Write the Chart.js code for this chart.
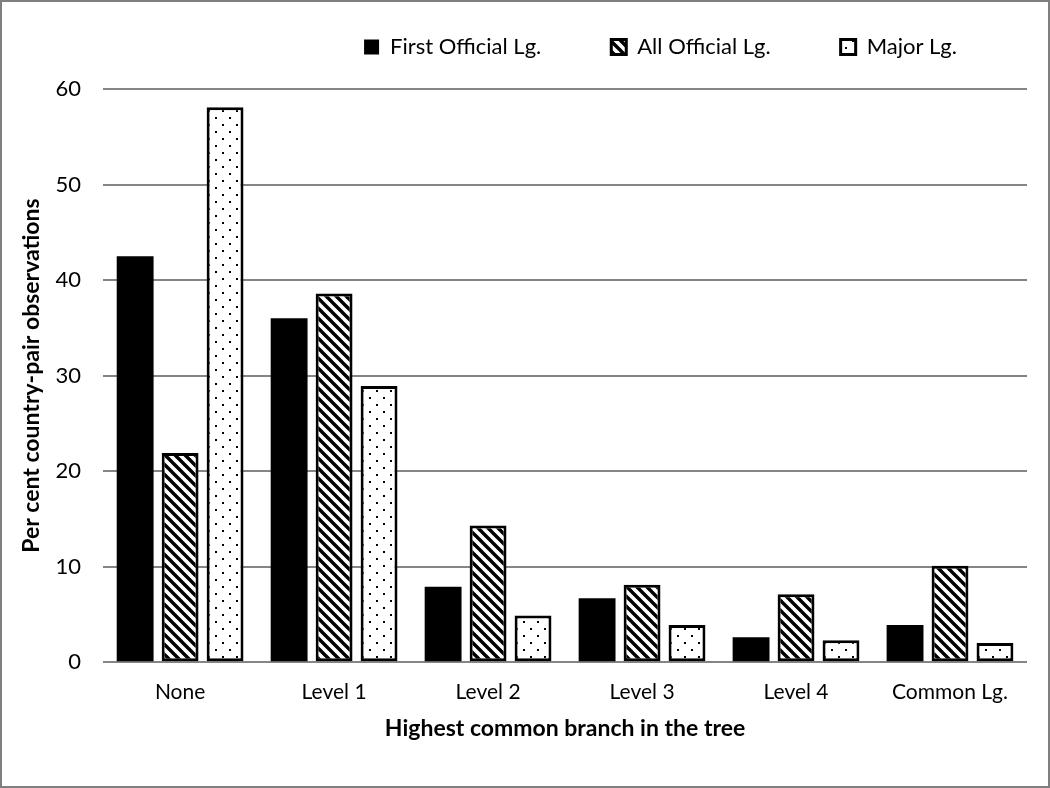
<!DOCTYPE html>
<html>
<head>
<meta charset="utf-8">
<script src="https://cdn.jsdelivr.net/npm/chart.js@4.4.1/dist/chart.umd.min.js"></script>
<style>
  html, body { margin: 0; padding: 0; background: #fff; }
  #wrap { width: 1050px; height: 788px; box-sizing: border-box; border: 2px solid #7f7f7f; background: #fff; }
  #c { display: block; }
</style>
</head>
<body>
<div id="wrap"><canvas id="c" width="1046" height="784"></canvas></div>
<script>
const categories = ["None", "Level 1", "Level 2", "Level 3", "Level 4", "Common Lg."];
const seriesNames = ["First Official Lg.", "All Official Lg.", "Major Lg."];
const firstOfficial = [42.5, 36.0, 7.9, 6.7, 2.6, 3.9];
const allOfficial = [21.9, 38.6, 14.3, 8.1, 7.1, 10.1];
const majorLg = [58.1, 28.9, 4.9, 3.9, 2.3, 2.0];
const yTicks = [0, 10, 20, 30, 40, 50, 60];

function hatchPattern() {
  const s = 10;
  const cv = document.createElement('canvas');
  cv.width = s; cv.height = s;
  const g = cv.getContext('2d');
  g.fillStyle = '#fff'; g.fillRect(0, 0, s, s);
  g.strokeStyle = '#000'; g.lineWidth = 3.4;
  g.beginPath();
  for (const o of [-s, 0, s]) { g.moveTo(o - 2, -2); g.lineTo(o + s + 2, s + 2); }
  g.stroke();
  return g.createPattern(cv, 'repeat');
}
function dotPattern() {
  const s = 14;
  const cv = document.createElement('canvas');
  cv.width = s; cv.height = s;
  const g = cv.getContext('2d');
  g.fillStyle = '#fff'; g.fillRect(0, 0, s, s);
  g.fillStyle = '#000';
  g.fillRect(3, 3, 2, 2);
  g.fillRect(10, 10, 2, 2);
  return g.createPattern(cv, 'repeat');
}

const FONT = "Lato, 'Open Sans', sans-serif";
Chart.defaults.font.family = FONT;
Chart.defaults.color = '#000';

const LEGEND_H = 123;
const legendHeightFix = {
  id: 'legendHeightFix',
  beforeLayout(chart) {
    const lg = chart.legend;
    if (lg && !lg._hfix) {
      const orig = lg.fit;
      lg.fit = function () { orig.call(this); this.height = LEGEND_H; };
      lg._hfix = true;
    }
  }
};

new Chart(document.getElementById('c'), {
  type: 'bar',
  data: {
    labels: categories,
    datasets: [
      { label: seriesNames[0], data: firstOfficial, backgroundColor: '#000', borderColor: '#000', borderWidth: 0 },
      { label: seriesNames[1], data: allOfficial, backgroundColor: hatchPattern(), borderColor: '#000', borderWidth: 3 },
      { label: seriesNames[2], data: majorLg, backgroundColor: dotPattern(), borderColor: '#000', borderWidth: 3 }
    ]
  },
  plugins: [legendHeightFix],
  options: {
    responsive: false,
    animation: false,
    datasets: { bar: { categoryPercentage: 0.876, barPercentage: 0.82, borderSkipped: false } },
    layout: { padding: { left: 12, right: 21, top: -36, bottom: 44 } },
    plugins: {
      tooltip: { enabled: false },
      legend: {
        position: 'top',
        align: 'end',
        labels: {
          boxWidth: 15, boxHeight: 15, padding: 70,
          font: { size: 22, family: FONT }, color: '#000'
        }
      }
    },
    scales: {
      x: {
        grid: { display: false, drawTicks: false },
        border: { display: false },
        ticks: { font: { size: 21 }, color: '#000', padding: 17.4, maxRotation: 0 },
        title: { display: true, text: 'Highest common branch in the tree', font: { size: 23, weight: 'bold' }, color: '#000', padding: { top: -7.8, bottom: 0 } }
      },
      y: {
        min: 0, max: 60,
        afterBuildTicks: (axis) => { axis.ticks = yTicks.map(v => ({ value: v })); },
        grid: { color: '#858585', lineWidth: 2, drawTicks: false },
        border: { display: false },
        ticks: { font: { size: 22 }, color: '#000', padding: 22 },
        title: { display: true, text: 'Per cent country-pair observations', font: { size: 23, weight: 'bold' }, color: '#000', padding: { top: 4.2, bottom: -12.2 } }
      }
    }
  }
});
</script>
</body>
</html>
